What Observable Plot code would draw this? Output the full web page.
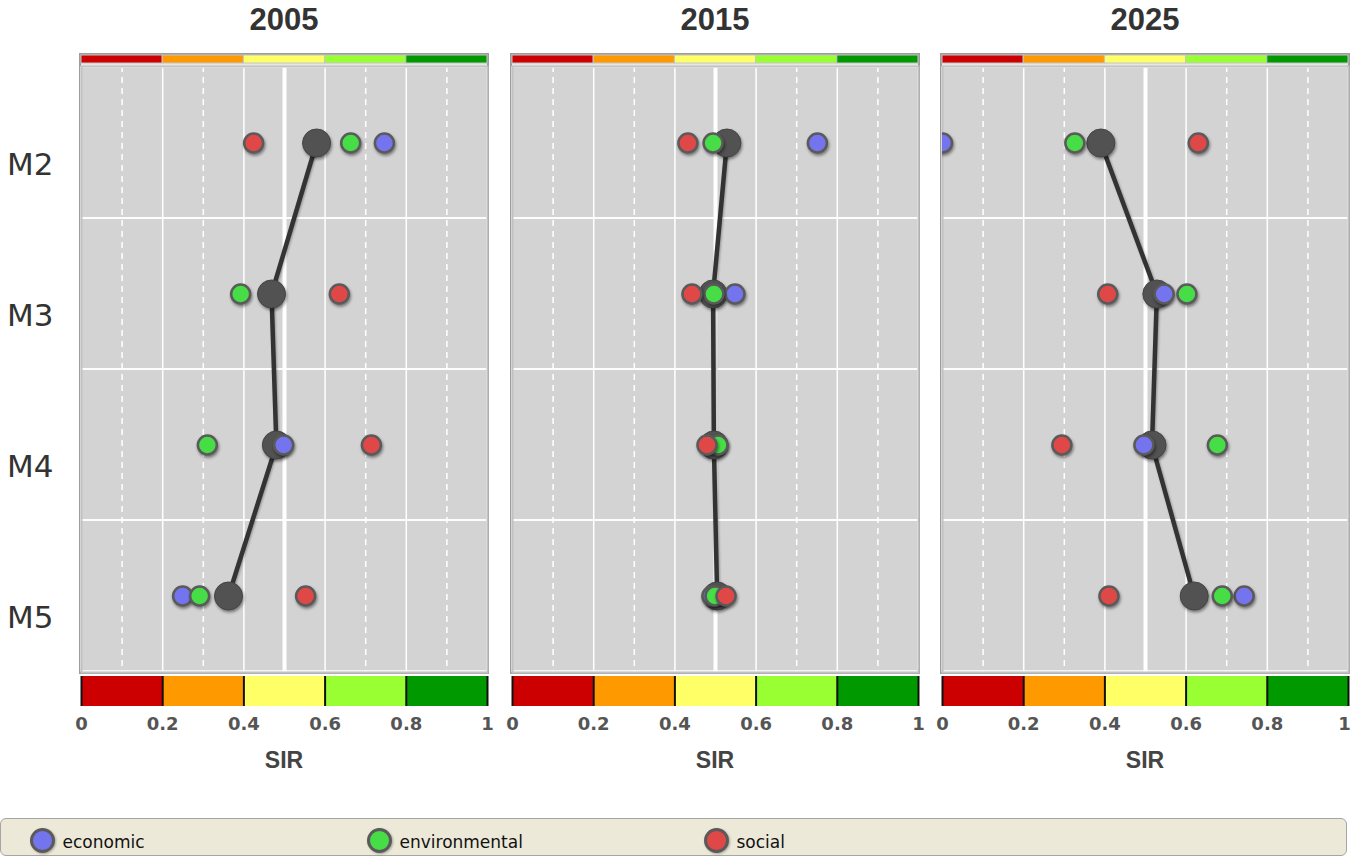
<!DOCTYPE html>
<html>
<head>
<meta charset="utf-8">
<script src="https://cdn.jsdelivr.net/npm/d3@7"></script>
<script src="https://cdn.jsdelivr.net/npm/@observablehq/plot@0.6"></script>
<style>
  html, body { margin: 0; padding: 0; background: #fff; }
  body { width: 1351px; height: 862px; position: relative; overflow: hidden; font-family: "DejaVu Sans", sans-serif; }
  .abs { position: absolute; }
  .mainplot circle { filter: drop-shadow(1.5px 2.5px 1.5px rgba(0,0,0,0.45)); }
  .mainplot path { filter: drop-shadow(1px 1.5px 1px rgba(0,0,0,0.3)); }
  .legendplot circle { filter: drop-shadow(1px 1px 1px rgba(0,0,0,0.3)); }
  svg { overflow: visible; }
</style>
</head>
<body>
<script>
// ---------- data ----------
const years = ["2005", "2015", "2025"];
const models = ["M2", "M3", "M4", "M5"];
const pillars = ["economic", "environmental", "social"];
const pillarColors = ["#7474ee", "#46dd46", "#e04848"];

// overall SIR per model (grey dots + line)
const sir2005 = [0.579, 0.468, 0.480, 0.362];
const sir2015 = [0.528, 0.494, 0.496, 0.504];
const sir2025 = [0.390, 0.528, 0.516, 0.620];

// pillar values per model
const economic2005 = [0.746, null, 0.498, 0.249];
const environmental2005 = [0.663, 0.392, 0.310, 0.291];
const social2005 = [0.424, 0.635, 0.714, 0.552];

const economic2015 = [0.751, 0.548, null, 0.491];
const environmental2015 = [0.494, 0.496, 0.506, 0.499];
const social2015 = [0.432, 0.442, 0.479, 0.526];

const economic2025 = [0.000, 0.546, 0.496, 0.743];
const environmental2025 = [0.326, 0.602, 0.677, 0.689];
const social2025 = [0.630, 0.407, 0.294, 0.410];

// colour bands of the SIR scale
const bandBreaks = [0, 0.2, 0.4, 0.6, 0.8, 1];
const bandColors = ["#cc0000", "#ff9900", "#ffff66", "#99ff33", "#009900"];
const tickValues = [0, 0.2, 0.4, 0.6, 0.8, 1];
const solidGrid = [0.2, 0.4, 0.6, 0.8];
const dashedGrid = [0.1, 0.3, 0.7, 0.9];
const midLine = [0.5];

// ---------- derived tables ----------
const sirByYear = { "2005": sir2005, "2015": sir2015, "2025": sir2025 };
const pillarByYear = {
  "2005": [economic2005, environmental2005, social2005],
  "2015": [economic2015, environmental2015, social2015],
  "2025": [economic2025, environmental2025, social2025]
};
const bands = bandColors.map((c, i) => ({ lo: bandBreaks[i], hi: bandBreaks[i + 1], color: c }));

// ---------- layout ----------
const panelLefts = [81, 512, 942];
const panelW = 406;

function place(el, left, top, cls) {
  const d = document.createElement("div");
  d.className = "abs" + (cls ? " " + cls : "");
  d.style.left = left + "px";
  d.style.top = top + "px";
  d.append(el);
  document.body.append(d);
  return d;
}
function textDiv(txt, left, top, width, css) {
  const d = document.createElement("div");
  d.className = "abs";
  d.textContent = txt;
  Object.assign(d.style, { left: left + "px", top: top + "px", width: width + "px", textAlign: "center" }, css);
  document.body.append(d);
  return d;
}

years.forEach((yr, p) => {
  const L = panelLefts[p];
  const last = p === years.length - 1;
  const rows = models.map((m, i) => ({ model: m, sir: sirByYear[yr][i] }));
  const pts = [];
  pillars.forEach((pl, k) => {
    pillarByYear[yr][k].forEach((v, i) => {
      if (v != null) pts.push({ model: models[i], pillar: pl, value: v, color: pillarColors[k] });
    });
  });

  // title
  textDiv(yr, L, 0, panelW, { font: "bold 31px 'Liberation Sans', Arial, sans-serif", lineHeight: "40px", color: "#333" });

  // outer frame
  const fr = document.createElement("div");
  fr.className = "abs";
  Object.assign(fr.style, { left: (L - 2) + "px", top: "53px", width: (panelW + 4) + "px", height: "621px",
    border: "2px solid #9c9c9c", boxSizing: "border-box", background: "#e6e6e6" });
  document.body.append(fr);

  // top colour strip
  const strip = Plot.plot({
    width: panelW, height: 12, marginTop: 2, marginBottom: 2, marginLeft: 0, marginRight: 0,
    x: { domain: [0, 1], axis: null },
    y: { domain: [0, 1], axis: null },
    color: { type: "identity" },
    style: { background: "transparent" },
    marks: [
      Plot.rect(bands, { x1: "lo", x2: "hi", y1: 0, y2: 1, fill: "color", stroke: "#c4c4c4", strokeWidth: 1 })
    ]
  });
  place(strip, L, 53);

  // main panel
  const ml = p === 0 ? L : 3;
  const main = Plot.plot({
    width: ml + panelW + 3, height: 610, marginLeft: ml, marginRight: 3, marginTop: 2, marginBottom: 2,
    x: { domain: [0, 1], axis: null },
    y: { domain: models, padding: 0, axis: null, label: null },
    color: { type: "identity" },
    style: { background: "transparent", fontFamily: "'DejaVu Sans', sans-serif" },
    marks: [
      Plot.frame({ fill: "#d3d3d3" }),
      Plot.ruleX(dashedGrid, { stroke: "white", strokeWidth: 1.5, strokeDasharray: "6,5" }),
      Plot.ruleX(solidGrid, { stroke: "white", strokeWidth: 1.5 }),
      Plot.ruleX(midLine, { stroke: "white", strokeWidth: 4 }),
      Plot.barX(models, { x1: 0, x2: 1, y: d => d, fill: "none", stroke: "white", strokeWidth: 1.5 }),
      Plot.frame({ stroke: "#c2c2c2", strokeWidth: 2 }),
      Plot.line(rows, { x: "sir", y: "model", stroke: "#333", strokeWidth: 4.5 }),
      Plot.dot(rows, { x: "sir", y: "model", r: 14, fill: "#525252", stroke: "#444", strokeWidth: 1 }),
      Plot.dot(pts, { x: "value", y: "model", r: 9.5, fill: "color", stroke: "#5a5a5a", strokeWidth: 2.5, clip: true }),
      p === 0 ? Plot.axisY({ tickSize: 0, tickPadding: 28, fontSize: 31, dy: 22, color: "#333", label: null }) : null
    ]
  });
  place(main, L - ml, 64, "mainplot");

  // bottom colour bar with axis
  const axisOpts = { tickSize: 0, tickPadding: 11, fontSize: 18, fontWeight: "bold", color: "#555", tickFormat: d => String(d), label: null };
  const bar = Plot.plot({
    width: panelW, height: 70, marginTop: 0, marginBottom: 40, marginLeft: 0, marginRight: 0,
    x: { domain: [0, 1], axis: null },
    y: { domain: [0, 1], axis: null },
    color: { type: "identity" },
    style: { background: "transparent", fontFamily: "'DejaVu Sans', sans-serif" },
    marks: [
      Plot.rect(bands, { x1: "lo", x2: "hi", y1: 0, y2: 1, fill: "color" }),
      Plot.ruleX(tickValues, { y1: 0, y2: 1, stroke: "#111", strokeWidth: 2 }),
      Plot.axisX(last ? tickValues.slice(0, -1) : tickValues, axisOpts),
      last ? Plot.axisX(tickValues.slice(-1), { ...axisOpts, dx: -4 }) : null
    ]
  });
  place(bar, L, 676);

  // axis label
  textDiv("SIR", L, 747, panelW, { font: "bold 23px 'Liberation Sans', Arial, sans-serif", lineHeight: "26px", color: "#444" });
});

// legend box
const box = document.createElement("div");
box.className = "abs";
Object.assign(box.style, { left: "0px", top: "818px", width: "1347px", height: "38px", background: "#ece9d8",
  border: "1px solid #a5a5a5", borderRadius: "6px", boxSizing: "border-box" });
document.body.append(box);

const legend = Plot.plot({
  width: 1347, height: 38, margin: 0,
  x: { type: "point", domain: pillars, range: [42, 716], padding: 0, axis: null },
  color: { type: "identity" },
  style: { background: "transparent", fontFamily: "'DejaVu Sans', sans-serif" },
  marks: [
    Plot.dot(pillars, { x: d => d, r: 11, dy: 3, fill: (d, i) => pillarColors[i], stroke: "#5a5a5a", strokeWidth: 3 }),
    Plot.text(pillars, { x: d => d, text: d => d, dx: 20, dy: 5, textAnchor: "start", fontSize: 17, fill: "#111" })
  ]
});
place(legend, 0, 818, "legendplot");
</script>
</body>
</html>
